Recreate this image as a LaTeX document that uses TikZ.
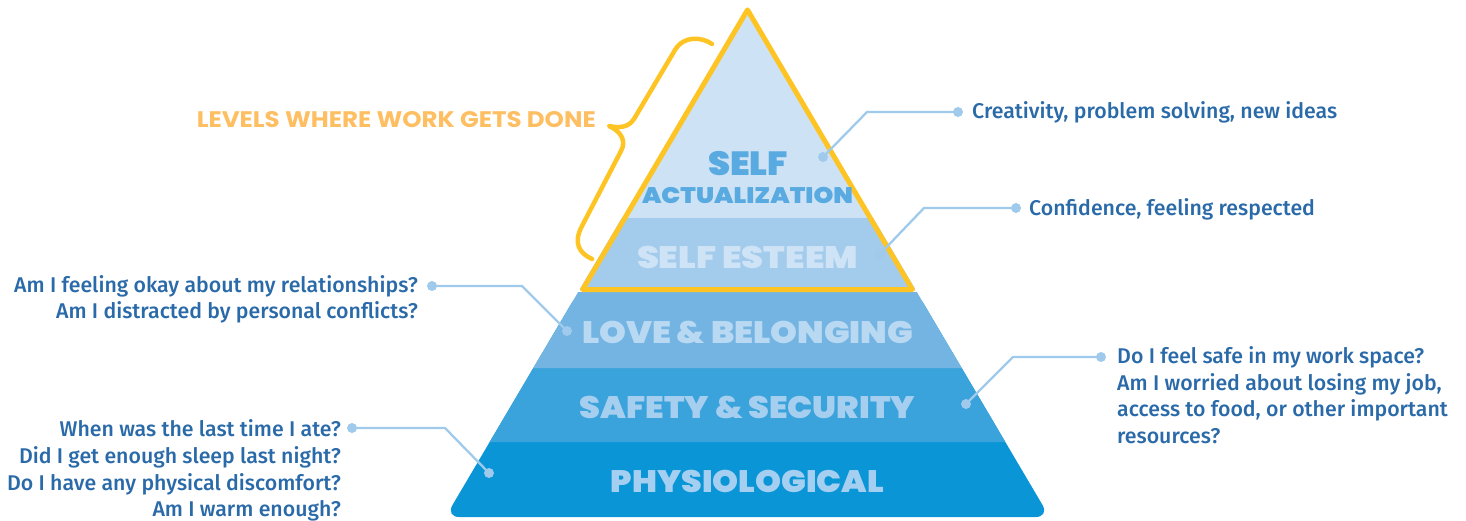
\documentclass[tikz,border=0pt]{standalone}
\usepackage{graphicx}
\usepackage{fontspec}
\setmainfont{Fira Sans}[UprightFont=* Medium]
\newfontfamily\headfont{Poppins}[UprightFont=* Black]
\newfontfamily\bracefont{Poppins}[UprightFont=* Bold]

% stretch a heading to a set width, keeping its height
\newcommand\spanto[2]{\resizebox{#1}{\height}{#2}}

\definecolor{gold}{RGB}{253,196,35}
\definecolor{goldtext}{RGB}{254,190,98}
\definecolor{cSA}{RGB}{205,226,244}
\definecolor{cSE}{RGB}{163,203,235}
\definecolor{cLove}{RGB}{116,180,226}
\definecolor{cSafe}{RGB}{59,163,220}
\definecolor{cPhys}{RGB}{10,149,214}
\definecolor{tSA}{RGB}{88,170,224}
\definecolor{tSE}{RGB}{206,227,245}
\definecolor{tLove}{RGB}{185,217,243}
\definecolor{tSafe}{RGB}{166,207,239}
\definecolor{tPhys}{RGB}{164,207,240}
\definecolor{labelblue}{RGB}{42,106,168}
\definecolor{linkblue}{RGB}{160,202,236}

\tikzset{
  lbl/.style={font=\fontsize{21.3}{25}\selectfont, text=labelblue, inner sep=0pt},
  lvl/.style={font=\headfont\fontsize{#1}{#1}\selectfont, inner sep=0pt, anchor=base},
  dot/.style={circle, fill=linkblue, minimum size=10pt, inner sep=0pt},
  link/.style={draw=linkblue, line width=2.3pt},
  brace/.style={draw=gold, line width=4.5pt, line cap=round, line join=round},
}

\begin{document}
\begin{tikzpicture}[x=1pt,y=-1pt]
\useasboundingbox (0,0) rectangle (1466,520);

% lower levels: rounded base, bands laid over it
\fill[cPhys, rounded corners=14pt] (578.2,292) -- (445.4,517) -- (1049.6,517) -- (916.8,292) -- cycle;
\fill[cSafe] (533.3,368) -- (489.7,442) -- (1005.3,442) -- (961.7,368) -- cycle;
\fill[cLove] (578.2,292) -- (533.3,368) -- (961.7,368) -- (916.8,292) -- cycle;

% upper levels framed in gold
\fill[cSA] (747.5,9.9) -- (582.6,289.5) -- (912.4,289.5) -- cycle;
\fill[cSE] (621.8,218) -- (579.6,289.5) -- (915.4,289.5) -- (873.2,218) -- cycle;
\draw[gold, line width=5pt, line join=round] (747.5,9.9) -- (582.6,289.5) -- (912.4,289.5) -- cycle;

% level names
\node[lvl=33.5, text=tSA] (nSelf) at (748,175) {\spanto{80pt}{SELF}};
\node[lvl=22.5, text=tSA] (nAct) at (747.5,203.3) {\spanto{211pt}{ACTUALIZATION}};
\node[lvl=31, text=tSE] (nSE) at (747.5,268.3) {\spanto{221pt}{SELF ESTEEM}};
\node[lvl=31, text=tLove] (nLove) at (747.5,343) {\spanto{331pt}{LOVE \& BELONGING}};
\node[lvl=31, text=tSafe] (nSafe) at (747.5,418) {\spanto{335pt}{SAFETY \& SECURITY}};
\node[lvl=31, text=tPhys] (nPhys) at (747.5,492) {\spanto{273pt}{PHYSIOLOGICAL}};

% brace and its caption
\draw[brace] (712,44) .. controls (702,37) and (684,35) .. (675,50)
  -- (634,119) .. controls (628,128) and (619,128) .. (609,126)
  .. controls (620,131) and (627,140) .. (621,151)
  -- (582,226) .. controls (573,243) and (579,253) .. (592,259);
\node[font=\bracefont\fontsize{22.5}{24}\selectfont, text=goldtext, inner sep=0pt, anchor=base east] (cap) at (596,127.3) {\spanto{399pt}{LEVELS WHERE WORK GETS DONE}};

% side labels
\node[lbl, anchor=base west] (lSA) at (972,118.5) {Creativity, problem solving, new ideas};
\node[lbl, anchor=base west] (lSE) at (1029,215.5) {Confidence, feeling respected};

\node[lbl, anchor=base east] (lLove1) at (418,292) {Am I feeling okay about my relationships?};
\node[lbl, anchor=base east] (lLove2) at (418,318.7) {Am I distracted by personal conflicts?};

\node[lbl, anchor=base west] (lSafe1) at (1117,363.3) {Do I feel safe in my work space?};
\node[lbl, anchor=base west] (lSafe2) at (1117,390) {Am I worried about losing my job,};
\node[lbl, anchor=base west] (lSafe3) at (1117,416.7) {access to food, or other important};
\node[lbl, anchor=base west] (lSafe4) at (1117,443.3) {resources?};

\node[lbl, anchor=base east] (lPhys1) at (341,436.7) {When was the last time I ate?};
\node[lbl, anchor=base east] (lPhys2) at (341,463.3) {Did I get enough sleep last night?};
\node[lbl, anchor=base east] (lPhys3) at (341,490) {Do I have any physical discomfort?};
\node[lbl, anchor=base east] (lPhys4) at (341,516.3) {Am I warm enough?};

% leader dots and elbows
\node[dot] (dSA) at (823,157) {};
\node[dot] (eSA) at (958,112) {};
\coordinate (kSA) at (867,112);
\node[dot] (dSE) at (879,255) {};
\node[dot] (eSE) at (1016,208) {};
\coordinate (kSE) at (924,208);
\node[dot] (dLove) at (567,331) {};
\node[dot] (eLove) at (432,286) {};
\coordinate (kLove) at (522,286);
\node[dot] (dSafe) at (966,404) {};
\node[dot] (eSafe) at (1101,357) {};
\coordinate (kSafe) at (1013,357);
\node[dot] (dPhys) at (489,473) {};
\node[dot] (ePhys) at (352,428) {};
\coordinate (kPhys) at (445,428);

\draw[link] (dSA.center) -- (kSA) -- (eSA.center);
\draw[link] (dSE.center) -- (kSE) -- (eSE.center);
\draw[link] (dLove.center) -- (kLove) -- (eLove.center);
\draw[link] (dSafe.center) -- (kSafe) -- (eSafe.center);
\draw[link] (dPhys.center) -- (kPhys) -- (ePhys.center);
\end{tikzpicture}
\end{document}
